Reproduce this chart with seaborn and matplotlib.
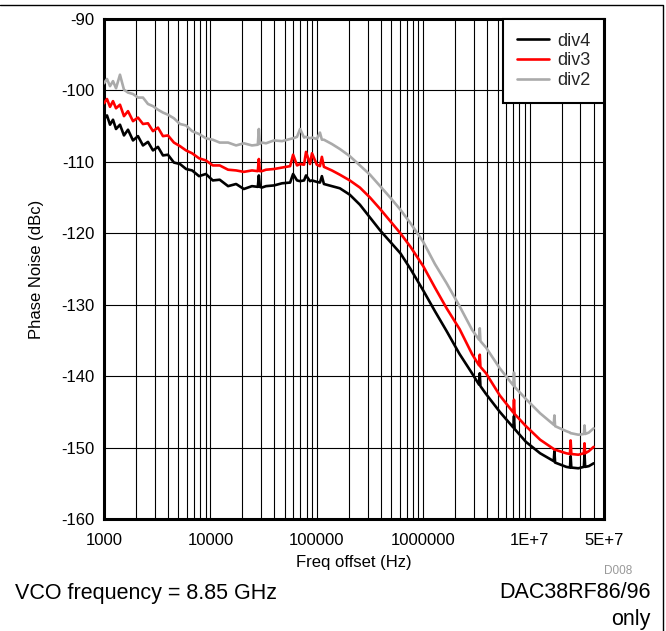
import matplotlib
matplotlib.use("Agg")
import matplotlib.pyplot as plt
from matplotlib.lines import Line2D
import seaborn as sns
import pandas as pd
import numpy as np

# ---- data ----
freq_hz = [1000, 1067, 1139, 1215, 1297, 1413, 1541, 1681, 1873, 2086, 2324, 2590,
           2885, 3214, 3581, 3990, 4540, 5178, 5905, 6733, 7815, 9069, 10530, 12230,
           14660, 17440, 20620, 24580, 27900, 28520, 29150, 30420, 33300, 39620, 47150,
           56100, 59860, 65160, 69640, 75870, 79190, 86280, 90080, 100000, 107000,
           111600, 116600, 138500, 164700, 204100, 254100, 316300, 393800, 490200,
           610300, 759800, 1000000, 1288000, 1660000, 2195000, 2875000, 3350000,
           3400000, 3450000, 3894000, 5244000, 7030000, 7130000, 7230000, 9230000,
           12550000, 16850000, 17100000, 17350000, 22100000, 23950000, 24300000,
           24650000, 28690000, 32350000, 32800000, 33250000, 36000000, 40000000]

div4 = [-104.0, -103.5, -104.8, -104.1, -105.4, -104.8, -106.3, -105.5, -107.0, -106.4,
        -107.7, -107.2, -108.4, -107.9, -109.1, -109.0, -110.1, -110.3, -111.0, -111.2,
        -112.0, -111.7, -112.6, -112.5, -113.4, -113.1, -113.8, -113.4, -113.5, -111.9,
        -113.5, -113.6, -113.4, -113.3, -113.0, -112.9, -111.7, -112.6, -112.7, -112.6,
        -111.9, -112.7, -112.6, -112.8, -112.9, -112.0, -113.1, -113.4, -113.7, -114.6,
        -116.0, -117.8, -119.6, -121.2, -122.8, -125.0, -128.0, -130.9, -133.7, -136.9,
        -139.6, -141.2, -139.6, -141.4, -142.5, -145.0, -147.2, -145.6, -147.4, -149.2,
        -150.8, -151.9, -150.5, -152.1, -152.7, -152.8, -151.2, -152.8, -152.9, -152.7,
        -150.9, -152.7, -152.6, -152.2]

div3 = [-101.8, -101.2, -102.3, -101.5, -102.5, -102.0, -103.6, -102.9, -104.3, -103.8,
        -104.7, -104.6, -105.7, -105.2, -106.4, -106.3, -107.3, -107.8, -108.4, -108.8,
        -109.5, -109.8, -110.5, -110.5, -111.1, -111.2, -111.4, -111.2, -111.3, -109.6,
        -111.3, -111.3, -111.1, -111.0, -110.8, -110.6, -109.0, -110.5, -110.3, -110.4,
        -108.6, -110.3, -108.8, -110.4, -110.6, -109.3, -110.7, -111.2, -111.8, -112.6,
        -113.6, -115.0, -116.6, -118.3, -120.0, -121.9, -124.6, -127.6, -130.5, -133.4,
        -136.9, -138.5, -137.0, -138.7, -139.6, -142.7, -145.1, -143.3, -145.3, -147.0,
        -148.9, -150.2, -150.3, -150.3, -150.8, -150.9, -149.0, -150.9, -151.0, -150.8,
        -149.4, -150.8, -150.5, -149.9]

div2 = [-99.0, -98.4, -99.4, -98.7, -99.7, -97.8, -99.9, -100.3, -100.5, -101.0,
        -101.0, -101.9, -102.2, -102.7, -103.1, -103.4, -103.9, -104.7, -104.9, -105.7,
        -106.1, -106.7, -106.9, -107.3, -107.3, -107.7, -107.4, -107.7, -107.6, -105.4,
        -107.5, -107.3, -107.4, -107.0, -107.1, -106.8, -106.7, -106.5, -105.4, -106.6,
        -106.5, -106.7, -106.6, -106.8, -105.9, -106.9, -106.9, -107.5, -108.2, -109.2,
        -110.5, -111.8, -113.4, -115.0, -116.7, -118.6, -121.2, -124.3, -127.0, -130.2,
        -133.5, -134.9, -133.3, -135.1, -136.0, -138.9, -141.3, -139.5, -141.5, -143.2,
        -145.2, -146.8, -145.5, -147.0, -147.7, -147.9, -148.0, -148.0, -148.2, -148.1,
        -146.9, -148.1, -147.9, -147.3]

series_names = ["div4", "div3", "div2"]
series_colors = ["#000000", "#FF0000", "#AAAAAA"]

xtick_vals = [1e3, 1e4, 1e5, 1e6, 1e7, 5e7]
xtick_labels = ["1000", "10000", "100000", "1000000", "1E+7", "5E+7"]
ytick_vals = [-160, -150, -140, -130, -120, -110, -100, -90]

# ---- build long-form table ----
frames = []
for name, vals in zip(series_names, [div4, div3, div2]):
    frames.append(pd.DataFrame({"freq": freq_hz, "pn": vals, "series": name}))
df = pd.concat(frames, ignore_index=True)

sns.set_theme(style="white")
plt.rcParams["font.family"] = ["Liberation Sans", "DejaVu Sans"]
plt.rcParams["axes.unicode_minus"] = False

W, H = 666, 631
fig = plt.figure(figsize=(W / 100, H / 100), dpi=100)
ax = fig.add_axes([104 / W, 1 - 519 / H, 500 / W, 500 / H])
ax.set_xscale("log")

sns.lineplot(data=df, x="freq", y="pn", hue="series", hue_order=series_names,
             palette=dict(zip(series_names, series_colors)), estimator=None,
             sort=False, linewidth=1.9, ax=ax, zorder=3)

ax.set_xlim(1e3, 5e7)
ax.set_ylim(-160, -90)

# grid lines
ax.xaxis.set_major_locator(matplotlib.ticker.FixedLocator(xtick_vals))
ax.xaxis.set_major_formatter(matplotlib.ticker.FixedFormatter(xtick_labels))
ax.xaxis.set_minor_locator(matplotlib.ticker.LogLocator(base=10, subs=np.arange(2, 10)))
ax.xaxis.set_minor_formatter(matplotlib.ticker.NullFormatter())
ax.set_yticks(ytick_vals)
ax.grid(True, which="both", axis="x", color="black", linewidth=0.8)
ax.grid(True, which="major", axis="y", color="black", linewidth=0.8)
ax.set_axisbelow(True)

ax.tick_params(axis="both", which="both", length=0, labelsize=12, colors="black")
ax.tick_params(axis="x", pad=10)
ax.tick_params(axis="y", pad=7)

for sp in ax.spines.values():
    sp.set_visible(True)
    sp.set_color("black")
    sp.set_linewidth(2.2)

ax.set_xlabel("Freq offset (Hz)", fontsize=12, color="black", labelpad=5)
ax.set_ylabel("Phase Noise (dBc)", fontsize=12, color="black", labelpad=12)

leg = ax.legend(loc="upper right", fontsize=13, frameon=True, fancybox=False,
                edgecolor="black", framealpha=1, borderaxespad=0.0,
                handlelength=1.8, handletextpad=0.45, labelspacing=0.15,
                borderpad=0.75)
leg.get_frame().set_linewidth(1.5)
leg.set_title(None)

# annotations
fig.text(632 / W, 1 - 571 / H, "D008", fontsize=8.5, color="#999999",
         ha="right", va="center")
fig.text(15 / W, 1 - 593 / H, "VCO frequency = 8.85 GHz", fontsize=15.5,
         color="black", ha="left", va="center")
fig.text(651 / W, 1 - 593 / H, "DAC38RF86/96", fontsize=15.5, color="black",
         ha="right", va="center")
fig.text(651 / W, 1 - 619 / H, "only", fontsize=15.5, color="black",
         ha="right", va="center")

# outer border (top and right)
fig.add_artist(Line2D([0, 663 / W, 663 / W], [1 - 5 / H, 1 - 5 / H, 0],
                      transform=fig.transFigure, color="black", linewidth=1.0))

fig.savefig("out.png", dpi=100)
